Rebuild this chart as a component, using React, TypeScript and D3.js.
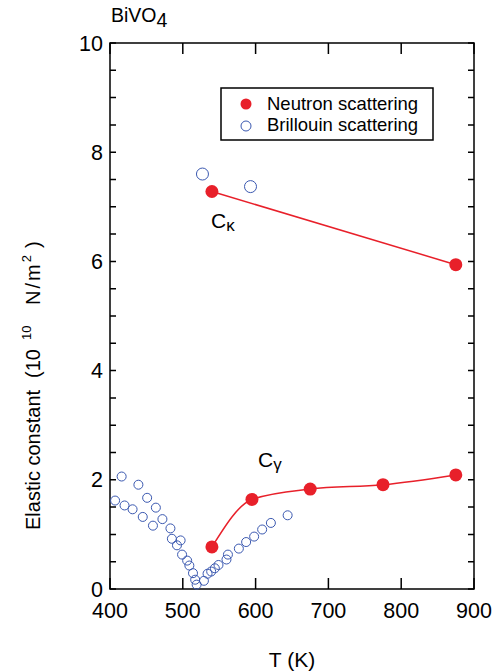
import React, { useEffect, useRef } from "react";
import * as d3 from "d3";

// neutron scattering, C_gamma branch
const cgT = [540, 595, 675, 775, 875];
const cgV = [0.77, 1.64, 1.83, 1.91, 2.09];
// neutron scattering, C_kappa branch
const ckT = [540, 875];
const ckV = [7.28, 5.94];
// Brillouin scattering (upper pair)
const brUpT = [527, 593];
const brUpV = [7.6, 7.37];
// Brillouin scattering (lower set)
const brT = [407, 416, 420, 431, 439, 445, 451, 459, 463, 472, 483, 485, 492, 497, 499, 506, 509, 514, 517, 519, 529, 534, 539, 544, 549, 560, 562, 577, 587, 598, 609, 621, 644];
const brV = [1.62, 2.06, 1.53, 1.46, 1.91, 1.32, 1.67, 1.16, 1.49, 1.28, 1.11, 0.92, 0.8, 0.89, 0.63, 0.52, 0.43, 0.29, 0.17, 0.08, 0.15, 0.28, 0.32, 0.38, 0.44, 0.54, 0.63, 0.74, 0.86, 0.96, 1.09, 1.21, 1.35];

const xTicks = [400, 500, 600, 700, 800, 900];
const yTicks = [0, 2, 4, 6, 8, 10];
const legendLabels = ["Neutron scattering", "Brillouin scattering"];

const RED = "#e8202a";
const BLUE = "#3a58b0";
const FONT = "'Liberation Sans', Arial, Helvetica, sans-serif";

export default function App() {
  const ref = useRef<SVGSVGElement>(null);

  useEffect(() => {
    const svg = d3.select(ref.current);
    svg.selectAll("*").remove();
    const margin = { top: 43, right: 26, bottom: 82, left: 110 };
    const width = 500;
    const height = 671;

    const x = d3.scaleLinear().domain([400, 900]).range([margin.left, width - margin.right]);
    const y = d3.scaleLinear().domain([0, 10]).range([height - margin.bottom, margin.top]);

    const g = svg.append("g").attr("font-family", FONT);

    // frame
    g.append("rect")
      .attr("x", x(400)).attr("y", y(10))
      .attr("width", x(900) - x(400)).attr("height", y(0) - y(10))
      .attr("fill", "none").attr("stroke", "#000").attr("stroke-width", 1.5);

    // x ticks (bottom + top, inward)
    g.selectAll(".xt").data(xTicks).enter().append("path")
      .attr("d", d => `M${x(d)},${y(0)}v-11M${x(d)},${y(10)}v11`)
      .attr("stroke", "#000").attr("stroke-width", 1.5);
    // y ticks every 0.5 (left + right, inward)
    g.selectAll(".yt").data(d3.range(0, 10.01, 0.5)).enter().append("path")
      .attr("d", d => `M${x(400)},${y(d)}h6M${x(900)},${y(d)}h-6`)
      .attr("stroke", "#000").attr("stroke-width", 1.5);

    g.selectAll(".xl").data(xTicks).enter().append("text")
      .attr("x", d => x(d)).attr("y", y(0) + 29)
      .attr("text-anchor", "middle").attr("font-size", 21.5)
      .text(d => d);
    g.selectAll(".yl").data(yTicks).enter().append("text")
      .attr("x", x(400) - 7).attr("y", d => y(d) + 7.5)
      .attr("text-anchor", "end").attr("font-size", 21.5)
      .text(d => d);

    // axis titles
    g.append("text")
      .attr("x", (x(400) + x(900)) / 2).attr("y", 667)
      .attr("text-anchor", "middle").attr("font-size", 21)
      .text("T (K)");

    const yt = g.append("text")
      .attr("transform", "translate(40,0) rotate(-90)")
      .attr("font-size", 20);
    yt.append("tspan").attr("x", -530).text("Elastic constant");
    yt.append("tspan").attr("x", -378).text("(10");
    yt.append("tspan").attr("x", -340).attr("font-size", 13).attr("dy", -9).text("10");
    yt.append("tspan").attr("x", -305).attr("dy", 9).attr("letter-spacing", 2).text("N/m");
    yt.append("tspan").attr("font-size", 13).attr("dy", -9).text("2");
    yt.append("tspan").attr("dx", 7).attr("dy", 9).text(")");

    // title
    const tt = g.append("text").attr("x", 111).attr("y", 22).attr("font-size", 19.5);
    tt.append("tspan").text("BiVO");
    tt.append("tspan").attr("dy", 5).text("4");

    // C_kappa line
    const line = d3.line<number>().x(d => x(ckT[d])).y(d => y(ckV[d]));
    g.append("path").datum(d3.range(ckT.length))
      .attr("d", line).attr("fill", "none").attr("stroke", RED).attr("stroke-width", 1.5);

    // C_gamma smooth curve
    const curve = d3.line<number>().x(d => x(cgT[d])).y(d => y(cgV[d])).curve(d3.curveMonotoneX);
    g.append("path").datum(d3.range(cgT.length))
      .attr("d", curve).attr("fill", "none").attr("stroke", RED).attr("stroke-width", 1.5);

    // Brillouin circles
    g.selectAll(".br").data(d3.range(brT.length)).enter().append("circle")
      .attr("cx", d => x(brT[d])).attr("cy", d => y(brV[d])).attr("r", 4.5)
      .attr("fill", "none").attr("stroke", BLUE).attr("stroke-width", 1);
    g.selectAll(".bru").data(d3.range(brUpT.length)).enter().append("circle")
      .attr("cx", d => x(brUpT[d])).attr("cy", d => y(brUpV[d])).attr("r", 6)
      .attr("fill", "none").attr("stroke", BLUE).attr("stroke-width", 1);

    // neutron points
    const nT = cgT.concat(ckT);
    const nV = cgV.concat(ckV);
    g.selectAll(".n").data(d3.range(nT.length)).enter().append("circle")
      .attr("cx", d => x(nT[d])).attr("cy", d => y(nV[d])).attr("r", 6.5)
      .attr("fill", RED);

    // branch labels
    const lk = g.append("text").attr("x", 211).attr("y", 228).attr("font-size", 21);
    lk.append("tspan").text("C");
    lk.append("tspan").attr("font-size", 17).attr("dy", 3).text("\u03ba");
    const lg = g.append("text").attr("x", 258).attr("y", 467).attr("font-size", 21);
    lg.append("tspan").text("C");
    lg.append("tspan").attr("font-size", 17).attr("dy", 3).text("\u03b3");

    // legend
    g.append("rect").attr("x", 221).attr("y", 88).attr("width", 212).attr("height", 52)
      .attr("fill", "#fff").attr("stroke", "#000").attr("stroke-width", 1.5);
    g.append("circle").attr("cx", 246).attr("cy", 104).attr("r", 5.5).attr("fill", RED);
    g.append("circle").attr("cx", 246).attr("cy", 126).attr("r", 5)
      .attr("fill", "none").attr("stroke", BLUE).attr("stroke-width", 1);
    g.selectAll(".lt").data(legendLabels).enter().append("text")
      .attr("x", 267).attr("y", (d, i) => 109.5 + i * 21.5)
      .attr("font-size", 18.5).text(d => d);
  }, []);

  return (
    <div style={{ position: "absolute", left: 0, top: 0 }}>
      <svg width="500" height="671" ref={ref} style={{ display: "block", background: "#fff" }} />
    </div>
  );
}
